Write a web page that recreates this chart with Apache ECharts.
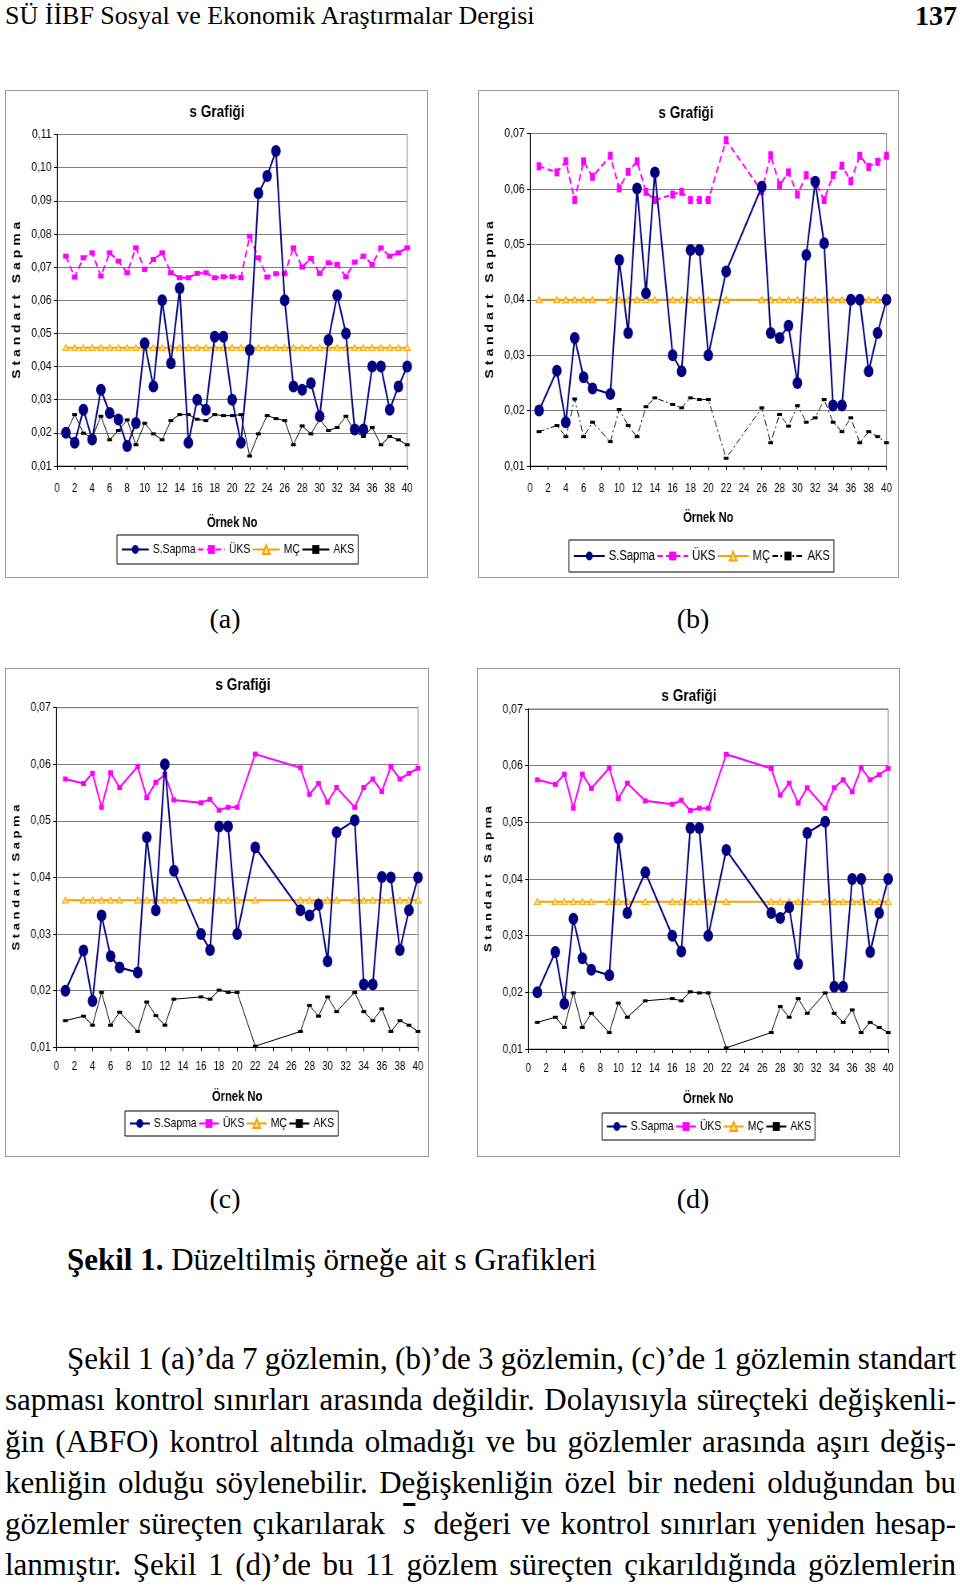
<!DOCTYPE html>
<html><head><meta charset="utf-8">
<script src="https://cdn.jsdelivr.net/npm/echarts@6/dist/echarts.min.js"></script>
<style>
html,body{margin:0;padding:0;background:#fff;}
body{width:960px;height:1586px;position:relative;overflow:hidden;font-family:"Liberation Serif","Times New Roman",serif;color:#000;}
.box{position:absolute;overflow:hidden;background:#fff;}
.box .cv{position:absolute;left:0;top:0;transform-origin:0 0;}
.box .bd{position:absolute;left:0;top:0;right:0;bottom:0;box-sizing:border-box;border:1.5px solid #9a9a9a;pointer-events:none;z-index:5;}
.t{position:absolute;white-space:nowrap;}
.line{position:absolute;font-size:31px;line-height:41px;white-space:nowrap;}
.lab{position:absolute;font-size:28px;transform:translate(-50%,-50%);}
</style></head><body>
<div class="t" style="left:5px;top:0px;font-size:26px;line-height:32px;">SÜ İİBF Sosyal ve Ekonomik Araştırmalar Dergisi</div>
<div class="t" style="right:3px;top:0px;font-size:28px;line-height:32px;font-weight:bold;">137</div>

<div class="box" style="left:5px;top:90px;width:423px;height:488px;"><div id="ca" class="cv"></div><div class="bd"></div></div>
<div class="box" style="left:478px;top:90px;width:421px;height:488px;"><div id="cb" class="cv"></div><div class="bd"></div></div>
<div class="box" style="left:5px;top:668px;width:424px;height:489px;"><div id="cc" class="cv"></div><div class="bd"></div></div>
<div class="box" style="left:477px;top:668px;width:423px;height:489px;"><div id="cd" class="cv"></div><div class="bd"></div></div>

<div class="lab" style="left:225px;top:619px;">(a)</div>
<div class="lab" style="left:693px;top:619px;">(b)</div>
<div class="lab" style="left:225px;top:1199px;">(c)</div>
<div class="lab" style="left:693px;top:1199px;">(d)</div>

<div class="t" style="left:67px;top:1243px;font-size:31px;line-height:34px;"><b>Şekil 1.</b> Düzeltilmiş örneğe ait s Grafikleri</div>

<div class="line" data-w="889" style="left:67px;top:1338px;">Şekil 1 (a)’da 7 gözlemin, (b)’de 3 gözlemin, (c)’de 1 gözlemin standart</div>
<div class="line" data-w="951" style="left:5px;top:1379px;">sapması kontrol sınırları arasında değildir. Dolayısıyla süreçteki değişkenli-</div>
<div class="line" data-w="951" style="left:5px;top:1421px;">ğin (ABFO) kontrol altında olmadığı ve bu gözlemler arasında aşırı değiş-</div>
<div class="line" data-w="951" style="left:5px;top:1462px;">kenliğin olduğu söylenebilir. Değişkenliğin özel bir nedeni olduğundan bu</div>
<div class="line" data-w="951" style="left:5px;top:1503px;">gözlemler süreçten çıkarılarak <span style="font-style:italic;text-decoration:overline;padding:0 8px;">s</span> değeri ve kontrol sınırları yeniden hesap-</div>
<div class="line" data-w="951" style="left:5px;top:1544px;">lanmıştır. Şekil 1 (d)’de bu 11 gözlem süreçten çıkarıldığında gözlemlerin</div>

<script>
// ---------- DATA ----------
const seriesNames = ['S.Sapma', 'ÜKS', 'MÇ', 'AKS'];
const xTicks = [0, 2, 4, 6, 8, 10, 12, 14, 16, 18, 20, 22, 24, 26, 28, 30, 32, 34, 36, 38, 40];

// (a)
const aX = [1,2,3,4,5,6,7,8,9,10,11,12,13,14,15,16,17,18,19,20,21,22,23,24,25,26,27,28,29,30,31,32,33,34,35,36,37,38,39,40];
const aSapma = [0.020,0.017,0.027,0.018,0.033,0.026,0.024,0.016,0.023,0.047,0.034,0.060,0.041,0.0636,0.017,0.030,0.027,0.049,0.049,0.030,0.017,0.045,0.0923,0.0975,0.105,0.060,0.034,0.033,0.035,0.025,0.048,0.0615,0.050,0.021,0.021,0.040,0.040,0.027,0.034,0.040];
const aUKS = [0.0733,0.0670,0.0728,0.0743,0.0673,0.0743,0.0718,0.0683,0.0758,0.0693,0.0723,0.0743,0.0683,0.0668,0.0668,0.0681,0.0683,0.0668,0.0671,0.0671,0.0668,0.0793,0.0728,0.0670,0.0680,0.0680,0.0758,0.0700,0.0726,0.0681,0.0713,0.0708,0.0671,0.0715,0.0733,0.0708,0.0758,0.0733,0.0743,0.0758];
const aMC = 0.0457;
const aAKS = [0.0199,0.0255,0.0199,0.0184,0.0250,0.0179,0.0207,0.0239,0.0164,0.0229,0.0197,0.0179,0.0237,0.0255,0.0255,0.0241,0.0237,0.0255,0.0252,0.0252,0.0255,0.0130,0.0197,0.0252,0.0243,0.0237,0.0164,0.0221,0.0197,0.0241,0.0207,0.0216,0.0250,0.0204,0.0189,0.0216,0.0164,0.0189,0.0179,0.0164];

// (b)
const bX = [1,3,4,5,6,7,9,10,11,12,13,14,16,17,18,19,20,22,26,27,28,29,30,31,32,33,34,35,36,37,38,39,40];
const bSapma = [0.020,0.0272,0.0179,0.0331,0.026,0.024,0.023,0.0472,0.034,0.0601,0.0412,0.063,0.030,0.0271,0.049,0.049,0.030,0.0451,0.0604,0.034,0.0331,0.0353,0.025,0.0481,0.0613,0.0502,0.0209,0.0209,0.040,0.040,0.0271,0.034,0.040];
const bUKS = [0.0641,0.0630,0.0650,0.0580,0.0650,0.0622,0.0660,0.0601,0.0631,0.0650,0.0595,0.0580,0.0590,0.0595,0.0580,0.0580,0.0580,0.0688,0.0596,0.0661,0.0607,0.0630,0.0590,0.0625,0.0613,0.0580,0.0625,0.0642,0.0614,0.0660,0.0640,0.0649,0.0660];
const bMC = 0.040;
const bAKS = [0.0162,0.0173,0.0153,0.0221,0.0153,0.0179,0.0144,0.0202,0.0173,0.0153,0.0207,0.0223,0.0211,0.0205,0.0223,0.0220,0.0220,0.0114,0.0205,0.0142,0.0193,0.0172,0.0209,0.0179,0.0187,0.0220,0.0179,0.0162,0.0187,0.0142,0.0162,0.0153,0.0142];

// (c)
const cX = [1,3,4,5,6,7,9,10,11,12,13,16,17,18,19,20,22,27,28,29,30,31,33,34,35,36,37,38,39,40];
const cSapma = [0.020,0.0271,0.0182,0.0333,0.0261,0.0241,0.0232,0.0471,0.0342,0.060,0.0412,0.030,0.0272,0.049,0.049,0.030,0.0453,0.0342,0.0333,0.0352,0.0252,0.048,0.0501,0.0211,0.0211,0.0401,0.040,0.0272,0.0342,0.040];
const cUKS = [0.0574,0.0566,0.0584,0.0524,0.0585,0.0559,0.0596,0.0541,0.0568,0.0582,0.0537,0.0532,0.0538,0.0519,0.0524,0.0524,0.0618,0.0594,0.0547,0.0566,0.0533,0.0559,0.0524,0.0559,0.0574,0.0552,0.0596,0.0574,0.0584,0.0593];
const cMC = 0.036;
const cAKS = [0.0147,0.0155,0.0139,0.0197,0.0139,0.0162,0.0128,0.0180,0.0156,0.0139,0.0185,0.0189,0.0185,0.0201,0.0197,0.0197,0.0102,0.0128,0.0174,0.0155,0.0189,0.0163,0.0197,0.0163,0.0147,0.0168,0.0128,0.0147,0.0139,0.0128];

// (d)
const dX = [1,3,4,5,6,7,9,10,11,13,16,17,18,19,20,22,27,28,29,30,31,33,34,35,36,37,38,39,40];
const dSapma = [0.020,0.0271,0.018,0.033,0.026,0.024,0.023,0.0472,0.034,0.0412,0.030,0.0272,0.049,0.049,0.030,0.0451,0.034,0.0331,0.035,0.025,0.0481,0.0501,0.021,0.021,0.040,0.040,0.0271,0.034,0.040];
const dUKS = [0.0575,0.0567,0.0585,0.0525,0.0585,0.0560,0.0596,0.0542,0.0569,0.0538,0.0532,0.0539,0.0521,0.0525,0.0525,0.0620,0.0595,0.0548,0.0569,0.0534,0.0561,0.0525,0.0561,0.0575,0.0554,0.0596,0.0575,0.0584,0.0595];
const dMC = 0.036;
const dAKS = [0.0147,0.0156,0.0138,0.0199,0.0138,0.0163,0.0129,0.0181,0.0156,0.0185,0.0189,0.0185,0.0201,0.0199,0.0199,0.0102,0.0129,0.0175,0.0156,0.0189,0.0163,0.0199,0.0163,0.0147,0.0169,0.0129,0.0147,0.0138,0.0129];

const chartTitle = 's Grafiği';
const xName = 'Örnek No';
const yName = 'S t a n d a r t   S a p m a';

// ---------- RENDER ----------
const S = 0.8; // horizontal condensation of the chart pictures
const FONT = '"Liberation Sans",Arial,sans-serif';
const NAVY = '#000080', MAG = '#FF00FF', ORG = '#F5A300', BLK = '#000000';

function pairs(xs, ys) { return xs.map((x, i) => [x, ys[i]]); }
function flat(xs, v) { return xs.map(x => [x, v]); }

function build(id, W, H, d, L) {
  const el = document.getElementById(id);
  el.style.width = (W / S) + 'px';
  el.style.height = H + 'px';
  el.style.transform = 'scaleX(' + S + ')';
  const ch = echarts.init(el, null, {renderer: 'canvas'});
  const ukDash = L.ukDash ? [7, 4] : 'solid';
  const akDash = L.akDash ? [7, 3, 2, 3] : 'solid';
  ch.setOption({
    animation: false,
    backgroundColor: '#fff',
    textStyle: {fontFamily: FONT},
    grid: {left: L.gl / S, right: L.gr / S, top: L.gt, bottom: L.gb, show: true, borderColor: '#808080', borderWidth: 1, backgroundColor: '#fff'},
    graphic: [{type: 'text', x: L.tx / S, y: L.ty, style: {text: chartTitle, font: 'bold 17px ' + FONT, fill: '#000', textAlign: 'center', textVerticalAlign: 'middle'}}],
    legend: {
      data: seriesNames, left: L.lx / S, top: L.ly, orient: 'horizontal',
      itemWidth: L.liw / S, itemHeight: 11, itemGap: 2,
      padding: [L.lp, 5, L.lp, 5], borderColor: '#000', borderWidth: 1, backgroundColor: '#fff',
      textStyle: {fontSize: L.lfs, fontFamily: FONT, color: '#000'}
    },
    xAxis: {
      type: 'value', min: 0, max: 40, interval: 2,
      name: xName, nameLocation: 'middle', nameGap: L.xng,
      nameTextStyle: {fontWeight: 'bold', fontSize: 14, fontFamily: FONT, color: '#000'},
      axisLine: {show: true, onZero: false, lineStyle: {color: '#000', width: 1}},
      axisTick: {show: true, length: 4, lineStyle: {color: '#000'}},
      axisLabel: {fontSize: 12, color: '#000', margin: L.xlm, fontFamily: FONT,
        formatter: v => xTicks.indexOf(v) >= 0 ? String(v) : ''},
      splitLine: {show: false}
    },
    yAxis: {
      type: 'value', min: 0.01, max: L.ymax, interval: 0.01,
      name: yName, nameLocation: 'middle', nameGap: L.yng / S, nameRotate: 90,
      nameTextStyle: {fontWeight: 'bold', fontSize: L.ynfs, fontFamily: FONT, color: '#000'},
      axisLine: {show: true, lineStyle: {color: '#000', width: 1}},
      axisTick: {show: true, length: 4, lineStyle: {color: '#000'}},
      axisLabel: {fontSize: 13, color: '#000', margin: 7, fontFamily: FONT,
        formatter: v => v.toFixed(2).replace('.', ',')},
      splitLine: {show: true, lineStyle: {color: '#808080', width: 1}}
    },
    series: [
      {name: 'S.Sapma', type: 'line', data: pairs(d.x, d.s), z: 5,
        symbol: 'circle', symbolSize: [12, 12], showAllSymbol: true,
        lineStyle: {color: NAVY, width: 2}, itemStyle: {color: NAVY}},
      {name: 'ÜKS', type: 'line', data: pairs(d.x, d.u), z: 3,
        symbol: 'rect', symbolSize: L.uSym, showAllSymbol: true,
        lineStyle: {color: MAG, width: 2, type: ukDash}, itemStyle: {color: MAG}},
      {name: 'MÇ', type: 'line', data: flat(d.x, d.m), z: 4,
        symbol: 'triangle', symbolSize: [8, 6], showAllSymbol: true,
        lineStyle: {color: ORG, width: 2}, itemStyle: {color: '#FFE27A', borderColor: ORG, borderWidth: 1}},
      {name: 'AKS', type: 'line', data: pairs(d.x, d.a), z: 2,
        symbol: 'rect', symbolSize: [6, 3], showAllSymbol: true,
        lineStyle: {color: BLK, width: 1, type: akDash}, itemStyle: {color: BLK}}
    ]
  });
}

build('ca', 423, 488, {x: aX, s: aSapma, u: aUKS, m: aMC, a: aAKS},
  {gl: 48, gr: 21, gt: 44.5, gb: 112, ymax: 0.11, tx: 212, ty: 22, lx: 112, ly: 445, liw: 27, lp: 8, lfs: 13,
   xng: 50, xlm: 17, yng: 27, ynfs: 14, ukDash: true, akDash: false, uSym: [7, 5]});
build('cb', 421, 488, {x: bX, s: bSapma, u: bUKS, m: bMC, a: bAKS},
  {gl: 43.7, gr: 12.3, gt: 43.6, gb: 112, ymax: 0.07, tx: 208, ty: 23, lx: 91, ly: 450, liw: 31, lp: 9, lfs: 14,
   xng: 45, xlm: 17, yng: 28, ynfs: 14, ukDash: true, akDash: true, uSym: [6, 8]});
build('cc', 424, 489, {x: cX, s: cSapma, u: cUKS, m: cMC, a: cAKS},
  {gl: 48.3, gr: 11, gt: 39.7, gb: 109.7, ymax: 0.07, tx: 238, ty: 17, lx: 120, ly: 443, liw: 20, lp: 6, lfs: 13,
   xng: 43, xlm: 13, yng: 24, ynfs: 13, ukDash: false, akDash: false, uSym: [6, 5]});
build('cd', 423, 489, {x: dX, s: dSapma, u: dUKS, m: dMC, a: dAKS},
  {gl: 48, gr: 12, gt: 41, gb: 108, ymax: 0.07, tx: 212, ty: 28, lx: 125, ly: 445, liw: 20, lp: 7, lfs: 13,
   xng: 43, xlm: 14, yng: 25, ynfs: 13, ukDash: false, akDash: false, uSym: [6, 5]});

// justify paragraph lines by adjusting word spacing
document.querySelectorAll('.line').forEach(el => {
  const target = +el.dataset.w;
  const nat = el.getBoundingClientRect().width;
  const spaces = (el.textContent.match(/ /g) || []).length;
  if (spaces > 0) el.style.wordSpacing = ((target - nat) / spaces) + 'px';
});
</script>
</body></html>
